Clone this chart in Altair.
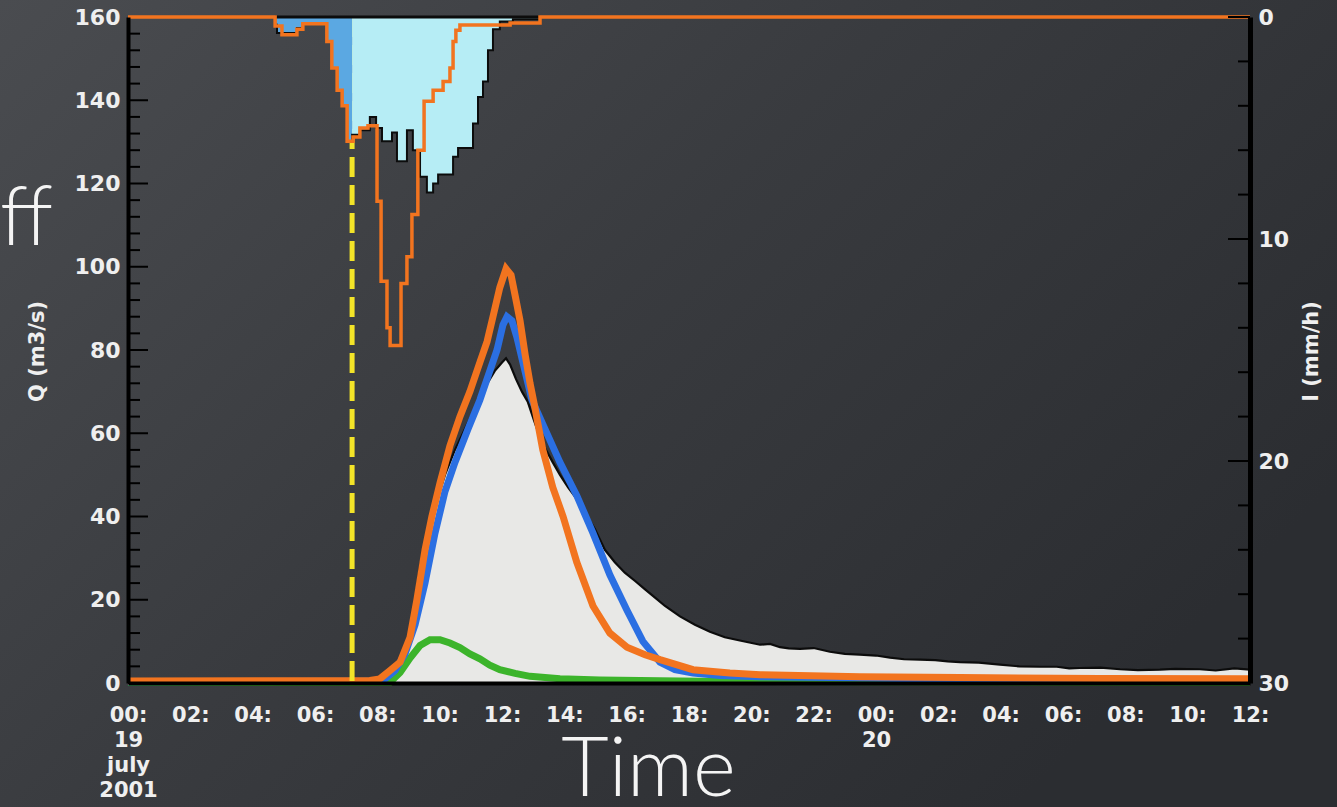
import altair as alt
import pandas as pd

# ---------------- data (time in hours from 00:00, 19 July 2001) ----------------
# observed rainfall intensity (mm/h), step series
obs_rain_t = [0, 4.72, 4.78, 5.42, 5.61, 6.38, 6.54, 6.71, 6.87, 7.03, 7.19, 7.44, 7.76,
              7.96, 8.15, 8.47, 8.63, 8.95, 9.14, 9.37, 9.59, 9.79, 9.95, 10.43, 10.59,
              11.07, 11.23, 11.39, 11.55, 11.71, 11.93, 12.35, 13.22, 36.0]
obs_rain_i = [0, 0.35, 0.72, 0.5, 0.3, 1.1, 2.3, 3.3, 4.0, 5.6, 5.3, 5.1, 4.5,
              5.0, 5.6, 5.2, 6.5, 5.1, 6.0, 7.2, 7.9, 7.5, 7.1, 6.3, 5.9,
              4.8, 3.6, 2.9, 1.5, 0.55, 0.2, 0.1, 0, 0]

# forecast rainfall intensity (mm/h), step series
fc_rain_t = [0, 4.72, 4.94, 5.42, 5.61, 6.38, 6.54, 6.71, 6.87, 7.03, 7.22, 7.44, 7.70,
             7.99, 8.12, 8.31, 8.41, 8.76, 8.95, 9.11, 9.30, 9.50, 9.79, 10.11, 10.33,
             10.43, 10.52, 10.65, 12.26, 13.22, 36.0]
fc_rain_i = [0, 0.4, 0.8, 0.55, 0.3, 1.1, 2.3, 3.3, 4.0, 5.6, 5.4, 5.0, 4.9,
             8.3, 11.9, 14.0, 14.8, 12.0, 10.8, 8.9, 6.0, 3.8, 3.3, 2.9, 2.3,
             1.1, 0.6, 0.36, 0.27, 0, 0]

# observed discharge (m3/s)
obs_q_t = [0, 8.41, 8.66, 8.89, 9.11, 9.37, 9.62, 9.88, 10.17, 10.49, 10.81, 11.13, 11.45,
           11.77, 12.00, 12.13, 12.26, 12.45, 12.64, 12.83, 13.03, 13.22, 13.41, 13.63,
           13.86, 14.12, 14.37, 14.66, 14.98, 15.30, 15.62, 15.94, 16.27, 16.59, 16.91,
           17.23, 17.71, 18.19, 18.67, 19.15, 19.63, 20.28, 20.60, 20.92, 21.20, 21.56,
           22.00, 22.52, 23.00, 23.48, 24.00, 24.45, 24.90, 25.41, 25.90, 26.30, 26.69,
           27.30, 27.98, 28.60, 29.26, 29.80, 30.20, 30.54, 31.20, 31.83, 32.40, 33.11,
           33.60, 34.39, 34.90, 35.50, 36.0]
obs_q = [0.2, 0.3, 2, 6, 14, 28, 36, 43, 50, 56, 61, 66, 71,
         75, 77, 78, 76.5, 73, 70, 67.5, 63, 59, 56, 53,
         50, 47, 44.5, 41, 37, 32, 29, 26.5, 24.5, 22.5, 20.5,
         18.5, 16, 14, 12.3, 11, 10.2, 9.2, 9.4, 8.6, 8.3, 8.2,
         8.4, 7.5, 7.0, 6.8, 6.6, 6.1, 5.7, 5.6, 5.5, 5.2, 5.0,
         4.9, 4.4, 4.0, 3.9, 3.9, 3.5, 3.6, 3.7, 3.3, 3.1, 3.2,
         3.4, 3.3, 3.0, 3.5, 3.2]

# simulated discharge, blue model
blue_t = [0, 7.92, 8.25, 8.57, 8.89, 9.21, 9.53, 9.85, 10.17, 10.49, 10.91, 11.29, 11.61,
          11.84, 12.03, 12.16, 12.32, 12.48, 12.64, 12.80, 12.96, 13.38, 13.86, 14.40,
          14.92, 15.46, 16.01, 16.52, 17.07, 17.55, 18.13, 18.99, 20.28, 22.52, 24.77,
          27.98, 31.83, 36.0]
blue_q = [0.3, 0.4, 1, 3, 7, 14, 24, 36, 46, 53, 61, 68, 75,
          80, 86, 88, 87, 83, 78, 73, 68, 61, 53, 45,
          36, 26, 17.5, 10, 5, 3.2, 2.4, 1.8, 1.5, 1.3, 1.1,
          1.0, 0.9, 0.8]

# simulated discharge, orange model
orange_t = [0, 7.76, 8.08, 8.41, 8.73, 9.05, 9.27, 9.53, 9.75, 10.01, 10.33, 10.65, 10.97,
            11.29, 11.52, 11.71, 11.93, 12.13, 12.29, 12.45, 12.58, 12.74, 12.90, 13.06,
            13.31, 13.63, 13.96, 14.40, 14.92, 15.46, 16.01, 16.59, 17.07, 18.13, 19.31,
            20.28, 23.48, 26.69, 31.18, 36.0]
orange_q = [0.5, 0.6, 1, 3, 5, 11, 20, 32, 40, 48, 57, 64, 70,
            77, 82, 88, 95, 99.5, 98, 92, 87, 79, 72, 66,
            56, 47, 40, 29, 18.5, 12, 8.6, 6.8, 5.6, 3.2, 2.4,
            2.0, 1.5, 1.3, 1.1, 1.0]

# simulated discharge, green component
green_t = [0, 8.41, 8.73, 9.05, 9.37, 9.69, 10.01, 10.33, 10.65, 10.97, 11.29, 11.61,
           11.93, 12.42, 12.90, 13.86, 15.14, 18.35, 24.77, 36.0]
green_q = [0.1, 0.2, 2.5, 6, 9, 10.4, 10.4, 9.6, 8.5, 7.0, 5.8, 4.3,
           3.2, 2.3, 1.6, 1.0, 0.7, 0.4, 0.3, 0.2]

forecast_start = [7.19]

x_tick_values = list(range(0, 37, 2))
q_label_values = [0, 20, 40, 60, 80, 100, 120, 140, 160]
q_tick_values = list(range(0, 161, 4))
i_label_values = [0, 10, 20, 30]
i_tick_values = list(range(0, 31, 2))

# ---------------- tables ----------------
df_obs_rain = pd.DataFrame({"t": obs_rain_t, "I": obs_rain_i})
df_rain_pre = df_obs_rain[df_obs_rain["t"] <= forecast_start[0]]
df_rain_post = df_obs_rain[df_obs_rain["t"] >= forecast_start[0]]
nonzero = df_obs_rain[df_obs_rain["I"] > 0]
df_rain_top = pd.DataFrame({"t": [nonzero["t"].min()],
                            "t2": [df_obs_rain[df_obs_rain["t"] > nonzero["t"].max()]["t"].min()],
                            "I": [0]})
df_fc_rain = pd.DataFrame({"t": fc_rain_t, "I": fc_rain_i})
df_obs_q = pd.DataFrame({"t": obs_q_t, "Q": obs_q})
df_blue = pd.DataFrame({"t": blue_t, "Q": blue_q})
df_orange = pd.DataFrame({"t": orange_t, "Q": orange_q})
df_green = pd.DataFrame({"t": green_t, "Q": green_q})
df_fc = pd.DataFrame({"t": forecast_start})
df_q_major = pd.DataFrame({"Q": [v for v in q_tick_values if v % 20 == 0]})
df_q_minor = pd.DataFrame({"Q": [v for v in q_tick_values if v % 20 != 0]})
df_i_major = pd.DataFrame({"I": [v for v in i_tick_values if v % 10 == 0]})
df_i_minor = pd.DataFrame({"I": [v for v in i_tick_values if v % 10 != 0]})
df_ff = pd.DataFrame({"label": ["ff"]})
df_bg = pd.DataFrame({"k": [0]})

# ---------------- styling ----------------
W, H = 1122, 666
PAD = {"left": 128, "top": 17, "right": 87, "bottom": 124}
BG = "#3a3c40"
LAB = "#efefef"
FONT = "DejaVu Sans"

x_enc = alt.X(
    "t:Q",
    scale=alt.Scale(domain=[0, 36], nice=False, zero=False),
    axis=alt.Axis(
        values=x_tick_values,
        labelExpr="datum.value == 0 ? ['00:', '19', 'july', '2001'] : "
                  "(datum.value == 24 ? ['00:', '20'] : format(datum.value % 24, '02d') + ':')",
        labelFont=FONT, labelFontWeight="bold", labelFontSize=21, labelColor=LAB,
        labelPadding=21, labelLineHeight=25, labelOverlap=False, labelFlush=False,
        ticks=False, domainColor="#000000", domainWidth=4, grid=False, zindex=1,
        title="Time", titleFont="Lato", titleFontSize=82, titleFontWeight=300,
        titleColor="#f4f4f4", titleX=520, titleY=112, titleAlign="center",
        titleBaseline="alphabetic",
    ),
)

q_enc = alt.Y(
    "Q:Q",
    scale=alt.Scale(domain=[0, 160], nice=False, zero=True),
    axis=alt.Axis(
        orient="left", values=q_label_values, ticks=False, grid=False, zindex=1,
        domainColor="#000000", domainWidth=4,
        labelFont=FONT, labelFontWeight="bold", labelFontSize=22, labelColor=LAB,
        labelPadding=8, labelFlush=False,
        title="Q (m3/s)", titleFont=FONT, titleFontWeight="bold", titleFontSize=21,
        titleColor=LAB, titleAngle=270, titleX=-91, titleY=334,
        titleAlign="center", titleBaseline="middle",
    ),
)

i_enc = alt.Y(
    "I:Q",
    scale=alt.Scale(domain=[0, 30], reverse=True, nice=False, zero=True),
    axis=alt.Axis(
        orient="right", values=i_label_values, ticks=False, grid=False, zindex=1,
        domainColor="#000000", domainWidth=5,
        labelFont=FONT, labelFontWeight="bold", labelFontSize=22, labelColor=LAB,
        labelPadding=8, labelFlush=False,
        title="I (mm/h)", titleFont=FONT, titleFontWeight="bold", titleFontSize=21,
        titleColor=LAB, titleAngle=270, titleX=61, titleY=334,
        titleAlign="center", titleBaseline="middle",
    ),
)

# backdrop shading of the slide (decoration, spans the whole canvas)
backdrop = alt.Chart(df_bg).mark_rect(
    fill=alt.LinearGradient(
        gradient="linear", x1=0, y1=0, x2=1, y2=0.6,
        stops=[alt.GradientStop(offset=0, color="#4a4c50"),
               alt.GradientStop(offset=0.5, color="#393b3f"),
               alt.GradientStop(offset=1, color="#2b2d31")]),
).encode(x=alt.value(-PAD["left"]), x2=alt.value(W + PAD["right"]),
         y=alt.value(-PAD["top"]), y2=alt.value(H + PAD["bottom"]))

# ---------------- discharge group (left axis) ----------------
obs_area = alt.Chart(df_obs_q).mark_area(color="#e8e8e6").encode(x=x_enc, y=q_enc)
obs_line = alt.Chart(df_obs_q).mark_line(color="#0c0c0c", strokeWidth=2.2).encode(x=x_enc, y=q_enc)
green_line = alt.Chart(df_green).mark_line(color="#3cb42b", strokeWidth=7).encode(x=x_enc, y=q_enc)
blue_line = alt.Chart(df_blue).mark_line(color="#2b6fe2", strokeWidth=7).encode(x=x_enc, y=q_enc)
orange_line = alt.Chart(df_orange).mark_line(color="#f2741f", strokeWidth=7).encode(x=x_enc, y=q_enc)
fc_rule = alt.Chart(df_fc).mark_rule(color="#f3e428", strokeWidth=5, strokeDash=[20, 8]).encode(x=x_enc)
q_major = alt.Chart(df_q_major).mark_rule(color="#000000", strokeWidth=2).encode(
    y=q_enc, x=alt.value(0), x2=alt.value(20))
q_minor = alt.Chart(df_q_minor).mark_rule(color="#000000", strokeWidth=2).encode(
    y=q_enc, x=alt.value(0), x2=alt.value(12))
ff_text = alt.Chart(df_ff).mark_text(
    font="Lato", fontSize=82, fontWeight=300, color="#f4f4f4",
    align="left", baseline="alphabetic").encode(
    text="label:N", x=alt.value(-128), y=alt.value(228))

q_group = alt.layer(backdrop, obs_area, obs_line, green_line, blue_line, orange_line,
                    fc_rule, q_major, q_minor, ff_text)

# ---------------- rainfall group (right axis, inverted) ----------------
rain_pre = alt.Chart(df_rain_pre).mark_area(color="#5ba8e2", interpolate="step-after").encode(x=x_enc, y=i_enc)
rain_post = alt.Chart(df_rain_post).mark_area(color="#b6edf5", interpolate="step-after").encode(x=x_enc, y=i_enc)
rain_line = alt.Chart(df_obs_rain).mark_line(color="#0c0c0c", strokeWidth=2, interpolate="step-after").encode(x=x_enc, y=i_enc)
rain_top = alt.Chart(df_rain_top).mark_rule(color="#0c0c0c", strokeWidth=3).encode(
    x=x_enc, x2="t2:Q", y=i_enc)
fc_rain_line = alt.Chart(df_fc_rain).mark_line(color="#f2741f", strokeWidth=3.5, interpolate="step-after").encode(x=x_enc, y=i_enc)
i_major = alt.Chart(df_i_major).mark_rule(color="#000000", strokeWidth=2).encode(
    y=i_enc, x=alt.value(W - 22), x2=alt.value(W))
i_minor = alt.Chart(df_i_minor).mark_rule(color="#000000", strokeWidth=2).encode(
    y=i_enc, x=alt.value(W - 12), x2=alt.value(W))

i_group = alt.layer(rain_pre, rain_post, rain_line, rain_top, fc_rain_line, i_major, i_minor)

chart = alt.layer(q_group, i_group).resolve_scale(y="independent").properties(
    width=W, height=H,
    padding=PAD,
    autosize=alt.AutoSizeParams(type="none"),
    background=BG,
).configure_view(stroke=None).configure_axis(grid=False)

chart.save("out.html", embed_options={"renderer": "svg", "actions": False})
